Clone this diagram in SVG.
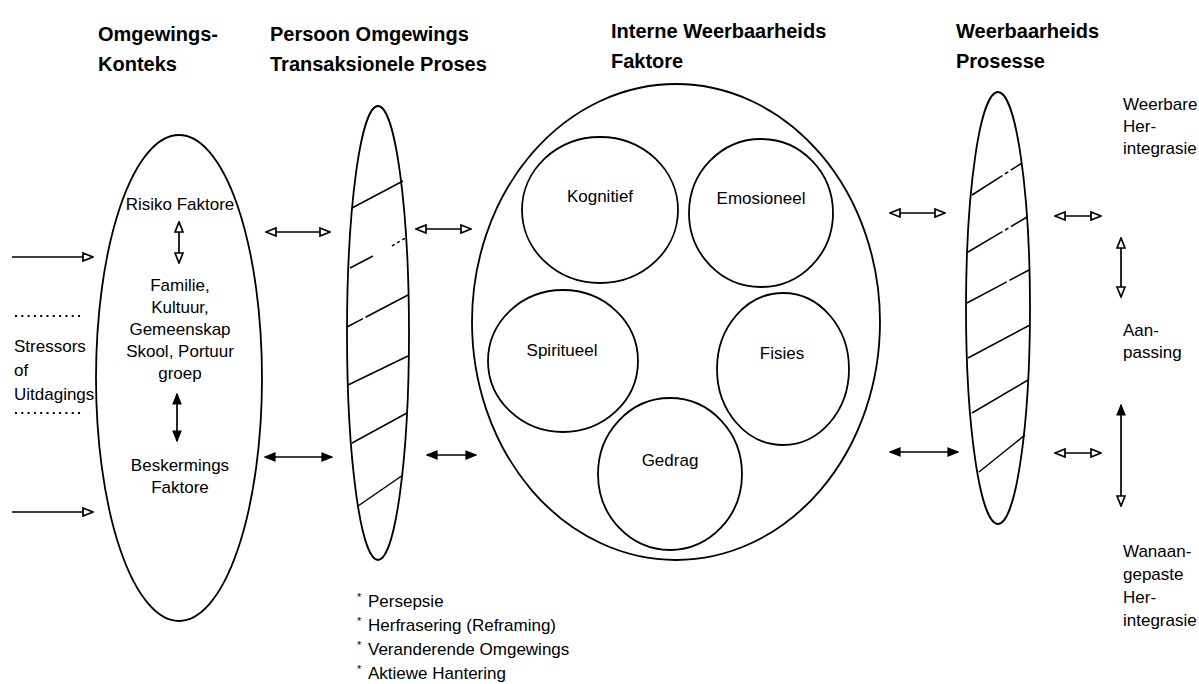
<svg xmlns="http://www.w3.org/2000/svg" width="1199" height="684" viewBox="0 0 1199 684">
<style>
  text { font-family: "Liberation Sans", Arial, sans-serif; fill: #000; }
  .title { font-size: 20px; font-weight: bold; }
  .lbl { font-size: 17px; }
  .mid { text-anchor: middle; }
  .shape { fill: #fff; stroke: #000; stroke-width: 1.8; }
  .hatch { stroke: #000; stroke-width: 1.5; fill: none; }
  .conn { stroke: #000; stroke-width: 1.7; fill: none; }
  .dots { stroke: #000; stroke-width: 2.2; stroke-dasharray: 2 4.3; }
  .bul { font-size: 11px; }
</style>
<defs>
  <marker id="open" viewBox="0 0 12 10" refX="11" refY="5" markerWidth="12" markerHeight="10" markerUnits="userSpaceOnUse" orient="auto-start-reverse">
    <path d="M1,1 L11,5 L1,9 z" fill="#fff" stroke="#000" stroke-width="1.7"/>
  </marker>
  <marker id="filled" viewBox="0 0 12 10" refX="11" refY="5" markerWidth="12" markerHeight="10" markerUnits="userSpaceOnUse" orient="auto-start-reverse">
    <path d="M1,1 L11,5 L1,9 z" fill="#000" stroke="#000" stroke-width="1.2"/>
  </marker>
</defs>
<rect width="1199" height="684" fill="#fff"/>

<g id="titles">
  <text class="title" x="98" y="41">Omgewings-</text>
  <text class="title" x="98" y="71">Konteks</text>
  <text class="title" x="270" y="41">Persoon Omgewings</text>
  <text class="title" x="270" y="71">Transaksionele Proses</text>
  <text class="title" x="611" y="38">Interne Weerbaarheids</text>
  <text class="title" x="611" y="68">Faktore</text>
  <text class="title" x="956" y="38">Weerbaarheids</text>
  <text class="title" x="956" y="68">Prosesse</text>
</g>

<g id="stressors">
  <line class="dots" x1="15" y1="316" x2="84" y2="316"/>
  <line class="dots" x1="15" y1="413" x2="84" y2="413"/>
  <text class="lbl" x="14" y="352">Stressors</text>
  <text class="lbl" x="14" y="376">of</text>
  <text class="lbl" x="14" y="400">Uitdagings</text>
</g>

<g id="omgewings-konteks">
  <ellipse class="shape" cx="179" cy="378" rx="83" ry="243"/>
  <text class="lbl mid" x="180" y="210">Risiko Faktore</text>
  <text class="lbl mid" x="180" y="291">Familie,</text>
  <text class="lbl mid" x="180" y="313">Kultuur,</text>
  <text class="lbl mid" x="180" y="335">Gemeenskap</text>
  <text class="lbl mid" x="180" y="357">Skool, Portuur</text>
  <text class="lbl mid" x="180" y="379">groep</text>
  <text class="lbl mid" x="180" y="471">Beskermings</text>
  <text class="lbl mid" x="180" y="493">Faktore</text>
</g>

<g id="transaksionele-proses">
  <ellipse class="shape" cx="378" cy="333" rx="31" ry="227"/>
  <line class="hatch" x1="352" y1="208" x2="403" y2="181"/>
  <line class="hatch" x1="350" y1="268" x2="373" y2="256"/>
  <line class="hatch" x1="392" y1="246" x2="407" y2="237" stroke-dasharray="3 3"/>
  <line class="hatch" x1="347" y1="327" x2="408" y2="295" stroke-dasharray="18 3 60"/>
  <line class="hatch" x1="348" y1="385" x2="408" y2="356"/>
  <line class="hatch" x1="352" y1="443" x2="407" y2="413"/>
  <line class="hatch" x1="358" y1="506" x2="403" y2="475"/>
</g>

<g id="interne-faktore">
  <ellipse class="shape" cx="676" cy="322" rx="204" ry="238"/>
</g>
<g id="kognitief">
  <ellipse class="shape" cx="600" cy="210" rx="78" ry="73"/>
  <text class="lbl mid" x="600" y="202">Kognitief</text>
</g>
<g id="emosioneel">
  <ellipse class="shape" cx="761" cy="213" rx="72" ry="74"/>
  <text class="lbl mid" x="761" y="204">Emosioneel</text>
</g>
<g id="spiritueel">
  <ellipse class="shape" cx="563" cy="361" rx="75" ry="71"/>
  <text class="lbl mid" x="562" y="356">Spiritueel</text>
</g>
<g id="fisies">
  <ellipse class="shape" cx="783" cy="369" rx="66" ry="76"/>
  <text class="lbl mid" x="782" y="359">Fisies</text>
</g>
<g id="gedrag">
  <ellipse class="shape" cx="670" cy="474" rx="72" ry="76"/>
  <text class="lbl mid" x="670" y="466">Gedrag</text>
</g>

<g id="weerbaarheids-prosesse">
  <ellipse class="shape" cx="998" cy="308" rx="32" ry="216"/>
  <line class="hatch" x1="972" y1="195" x2="1022" y2="163" stroke-dasharray="36 3 4 3 20"/>
  <line class="hatch" x1="968" y1="252" x2="1027" y2="217" stroke-dasharray="40 3 4 3 30"/>
  <line class="hatch" x1="967" y1="303" x2="1029" y2="270" stroke-dasharray="45 3 30"/>
  <line class="hatch" x1="968" y1="358" x2="1030" y2="325"/>
  <line class="hatch" x1="972" y1="413" x2="1028" y2="380"/>
  <line class="hatch" x1="979" y1="472" x2="1025" y2="435"/>
</g>

<g id="uitkomste">
  <text class="lbl" x="1123" y="110">Weerbare</text>
  <text class="lbl" x="1123" y="132">Her-</text>
  <text class="lbl" x="1123" y="154">integrasie</text>
  <text class="lbl" x="1123" y="336">Aan-</text>
  <text class="lbl" x="1123" y="358">passing</text>
  <text class="lbl" x="1123" y="557">Wanaan-</text>
  <text class="lbl" x="1123" y="580">gepaste</text>
  <text class="lbl" x="1123" y="603">Her-</text>
  <text class="lbl" x="1123" y="626">integrasie</text>
</g>

<g id="hanteringstrategiee">
  <text class="lbl" x="357" y="607"><tspan class="bul" dy="-6">*</tspan><tspan dy="6" x="368">Persepsie</tspan></text>
  <text class="lbl" x="357" y="631"><tspan class="bul" dy="-6">*</tspan><tspan dy="6" x="368">Herfrasering (Reframing)</tspan></text>
  <text class="lbl" x="357" y="655"><tspan class="bul" dy="-6">*</tspan><tspan dy="6" x="368">Veranderende Omgewings</tspan></text>
  <text class="lbl" x="357" y="679"><tspan class="bul" dy="-6">*</tspan><tspan dy="6" x="368">Aktiewe Hantering</tspan></text>
</g>

<g id="connectors">
  <line class="conn" x1="12" y1="257" x2="93" y2="257" marker-end="url(#open)"/>
  <line class="conn" x1="12" y1="512" x2="93" y2="512" marker-end="url(#open)"/>
  <line class="conn" x1="179" y1="222" x2="179" y2="263" marker-start="url(#open)" marker-end="url(#open)"/>
  <line class="conn" x1="177" y1="394" x2="177" y2="441" marker-start="url(#filled)" marker-end="url(#filled)"/>
  <line class="conn" x1="266" y1="232" x2="330" y2="232" marker-start="url(#open)" marker-end="url(#open)"/>
  <line class="conn" x1="416" y1="229" x2="471" y2="229" marker-start="url(#open)" marker-end="url(#open)"/>
  <line class="conn" x1="265" y1="457" x2="332" y2="457" marker-start="url(#filled)" marker-end="url(#filled)"/>
  <line class="conn" x1="427" y1="455" x2="476" y2="455" marker-start="url(#filled)" marker-end="url(#filled)"/>
  <line class="conn" x1="890" y1="213" x2="945" y2="213" marker-start="url(#open)" marker-end="url(#open)"/>
  <line class="conn" x1="890" y1="452" x2="958" y2="452" marker-start="url(#filled)" marker-end="url(#filled)"/>
  <line class="conn" x1="1055" y1="216" x2="1101" y2="216" marker-start="url(#open)" marker-end="url(#open)"/>
  <line class="conn" x1="1055" y1="453" x2="1101" y2="453" marker-start="url(#open)" marker-end="url(#open)"/>
  <line class="conn" x1="1121" y1="238" x2="1121" y2="297" marker-start="url(#open)" marker-end="url(#open)"/>
  <line class="conn" x1="1121" y1="405" x2="1121" y2="506" marker-start="url(#filled)" marker-end="url(#open)"/>
</g>
</svg>
